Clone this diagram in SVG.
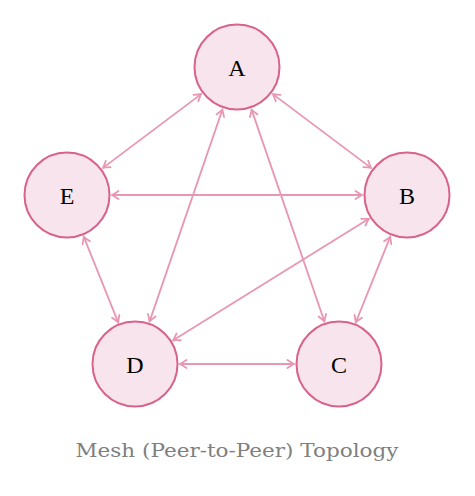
<svg xmlns="http://www.w3.org/2000/svg" width="475" height="496" viewBox="0 0 475 496">
<style>
.node circle{fill:#f8e4ec;stroke:#d9628b;stroke-width:2}
.node text{font-family:"Liberation Serif","DejaVu Serif",serif;font-size:24px;fill:#000;text-anchor:middle;dominant-baseline:central}
.edge{stroke:#e897b1;stroke-width:1.8;fill:none;marker-start:url(#ah);marker-end:url(#ah)}
.cap{font-family:"DejaVu Serif","Liberation Serif",serif;font-size:19px;fill:#808080;text-anchor:middle}
</style>
<defs>
<marker id="ah" viewBox="-8 -5 10 10" refX="0" refY="0" markerWidth="10" markerHeight="10" markerUnits="userSpaceOnUse" orient="auto-start-reverse">
<path d="M-6.5,-4 Q-2,-1 0,0 Q-2,1 -6.5,4" fill="none" stroke="#e897b1" stroke-width="1.8" stroke-linecap="round"/>
</marker>
</defs>
<g id="connectors">
<line class="edge" x1="272.9" y1="94.1" x2="371" y2="167.9"/>
<line class="edge" x1="201.1" y1="94.1" x2="103" y2="167.9"/>
<line class="edge" x1="222.4" y1="109.6" x2="149.6" y2="321.4"/>
<line class="edge" x1="251.6" y1="109.6" x2="324.4" y2="321.4"/>
<line class="edge" x1="112" y1="195" x2="362" y2="195"/>
<line class="edge" x1="83.8" y1="236.8" x2="118.2" y2="322.3"/>
<line class="edge" x1="390.2" y1="236.8" x2="355.8" y2="322.3"/>
<line class="edge" x1="368.8" y1="218.8" x2="173.2" y2="340.3"/>
<line class="edge" x1="180" y1="364" x2="294" y2="364"/>
</g>
<g id="node-A" class="node"><circle cx="237" cy="67" r="42.5"/><text x="237" y="68">A</text></g>
<g id="node-B" class="node"><circle cx="407" cy="195" r="42.5"/><text x="407" y="196">B</text></g>
<g id="node-E" class="node"><circle cx="67" cy="195" r="42.5"/><text x="67" y="196">E</text></g>
<g id="node-C" class="node"><circle cx="339" cy="364" r="42.5"/><text x="339" y="365">C</text></g>
<g id="node-D" class="node"><circle cx="135" cy="364" r="42.5"/><text x="135" y="365">D</text></g>
<text class="cap" x="237" y="457" textLength="323" lengthAdjust="spacingAndGlyphs">Mesh (Peer-to-Peer) Topology</text>
</svg>
